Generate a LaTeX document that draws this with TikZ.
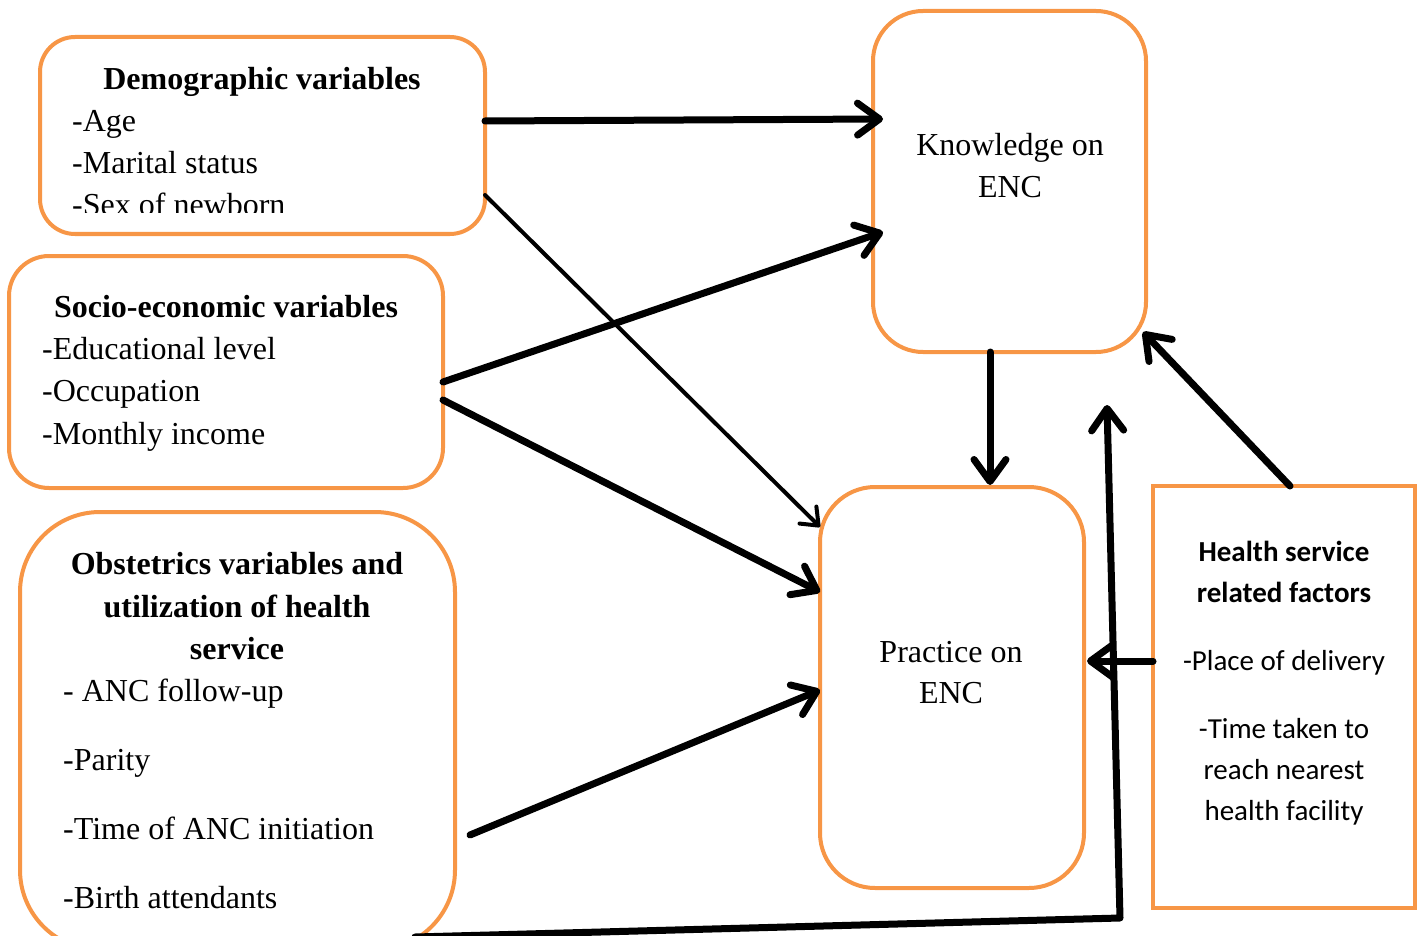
\documentclass[tikz,border=0pt]{standalone}
\usepackage{fontspec}
\setmainfont{Liberation Serif}
\newfontfamily\calib{Carlito}
\usetikzlibrary{arrows.meta,calc}
\definecolor{boxorange}{HTML}{F79646}
\begin{document}
\begin{tikzpicture}[x=1pt,y=-1pt,
  rbox/.style={draw=boxorange, line width=4pt, fill=white, anchor=north west, inner sep=0pt, outer sep=0pt},
  txt/.style={font=\fontsize{32}{38}\selectfont, inner sep=0pt, anchor=mid west, yshift=-8pt},
  ctxt/.style={font=\fontsize{32}{38}\selectfont, inner sep=0pt, anchor=mid, yshift=-8pt},
  btxt/.style={font=\fontsize{32}{38}\selectfont\bfseries, inner sep=0pt, anchor=mid, yshift=-8pt},
  htxt/.style={font=\calib\fontsize{29}{35}\selectfont, inner sep=0pt, anchor=mid, yshift=-7pt},
  hbtxt/.style={font=\calib\fontsize{29}{35}\selectfont\bfseries, inner sep=0pt, anchor=mid, yshift=-7pt},
  conn/.style={line width=7pt, line cap=round, line join=round, -{Straight Barb[round,length=22pt,width=32pt]}},
  thinconn/.style={line width=4pt, line cap=round, -{Straight Barb[round,length=15pt,width=24pt]}},
]
\useasboundingbox (0,0) rectangle (1424,936);
\clip (0,0) rectangle (1424,936);

% boxes
\node[rbox, minimum width=445pt, minimum height=197pt, rounded corners=35pt] (demo) at (40,37) {};
\node[rbox, minimum width=434pt, minimum height=232pt, rounded corners=40pt] (socio) at (9,256) {};
\node[rbox, minimum width=435pt, minimum height=438pt, rounded corners=80pt] (obst) at (20,512) {};
\node[rbox, minimum width=273pt, minimum height=341pt, rounded corners=50pt] (know) at (873,11) {};
\node[rbox, minimum width=264pt, minimum height=401pt, rounded corners=55pt] (prac) at (820,487) {};
\node[rbox, minimum width=262pt, minimum height=422pt] (health) at (1153,486) {};

% demographic text
\node[btxt] (demoT) at (262,79) {Demographic variables};
\node[txt] (demo1) at (72,121) {-Age};
\node[txt] (demo2) at (72,163) {-Marital status};
\begin{scope}
  \clip (40,37) rectangle (485,213);
  \node[txt] (demo3) at (72,205) {-Sex of newborn};
\end{scope}

% socio text
\node[btxt] (socioT) at (226,307) {Socio-economic variables};
\node[txt] (socio1) at (42,349) {-Educational level};
\node[txt] (socio2) at (42,391) {-Occupation};
\node[txt] (socio3) at (42,434) {-Monthly income};

% obstetrics text
\node[btxt] (obstT1) at (237,564) {Obstetrics variables and};
\node[btxt] (obstT2) at (237,607) {utilization of health};
\node[btxt] (obstT3) at (237,649) {service};
\node[txt] (obst1) at (63,691) {- ANC follow-up};
\node[txt] (obst2) at (63,760) {-Parity};
\node[txt] (obst3) at (63,829) {-Time of ANC initiation};
\node[txt] (obst4) at (63,898) {-Birth attendants};

% knowledge / practice text
\node[ctxt] (knowT1) at (1010,145) {Knowledge on};
\node[ctxt] (knowT2) at (1010,187) {ENC};
\node[ctxt] (pracT1) at (951,652) {Practice on};
\node[ctxt] (pracT2) at (951,693) {ENC};

% health text
\node[hbtxt] (healthT1) at (1284,552) {Health service};
\node[hbtxt] (healthT2) at (1284,593) {related factors};
\node[htxt] (health1) at (1284,661) {-Place of delivery};
\node[htxt] (health2) at (1284,729) {-Time taken to};
\node[htxt] (health3) at (1284,770) {reach nearest};
\node[htxt] (health4) at (1284,811) {health facility};

% connectors
\draw[conn] ([yshift=14.5pt]demo.east) -- ([xshift=10pt,yshift=62.5pt]know.west);
\draw[thinconn] ([yshift=-59.5pt]demo.east) -- ([yshift=160.5pt]prac.west);
\draw[conn] ([yshift=-10pt]socio.east) -- ([xshift=10pt,yshift=-50.5pt]know.west);
\draw[conn] ([yshift=-28pt]socio.east) -- ([yshift=95.5pt]prac.west);
\draw[conn] ([xshift=-19.5pt]know.south) -- ([xshift=38pt,yshift=2pt]prac.north);
\draw[conn] ([xshift=15pt,yshift=-104pt]obst.east) -- ([yshift=-2.5pt]prac.west);
\draw[conn] ([xshift=6pt]health.north) -- ([xshift=-3pt,yshift=20pt]know.south east);
\draw[conn] ([yshift=36pt]health.west) -- ([xshift=3pt,yshift=26.5pt]prac.east);
\coordinate (bend) at (1120,918);
\coordinate (kup) at (1107,405);
\draw[conn] ([xshift=-40pt,yshift=13pt]obst.south east) -- (bend) -- (kup);
\end{tikzpicture}
\end{document}
